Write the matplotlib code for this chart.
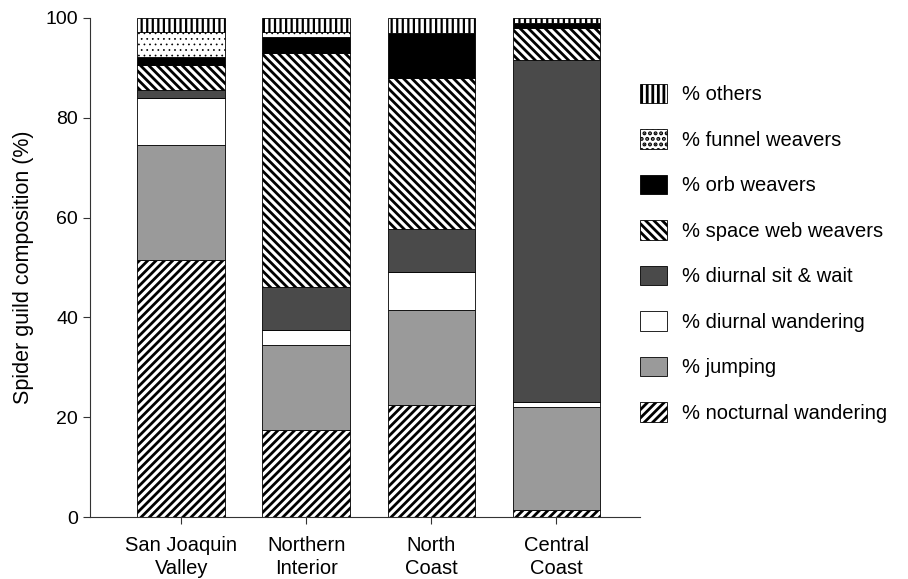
import numpy as np
import matplotlib
matplotlib.use('Agg')
import matplotlib.pyplot as plt

plt.rcParams['font.family'] = ['Liberation Sans', 'DejaVu Sans']
plt.rcParams['hatch.linewidth'] = 2.0

regions = ['San Joaquin\nValley', 'Northern\nInterior', 'North\nCoast', 'Central\nCoast']

# guild percentages per region, bottom to top of each stack
nocturnal_wandering = [51.5, 17.5, 22.5, 1.5]
jumping = [23.0, 17.0, 19.0, 20.5]
diurnal_wandering = [9.5, 3.0, 7.5, 1.0]
diurnal_sit_wait = [1.6, 8.5, 8.8, 68.6]
space_web_weavers = [5.0, 47.0, 30.2, 6.4]
orb_weavers = [1.6, 3.2, 9.0, 1.0]
funnel_weavers = [5.0, 1.0, 0.0, 0.0]
others = [2.8, 2.8, 3.0, 1.0]

# label, values, fill, hatch, hatch line width
guilds = [
    ('% nocturnal wandering', nocturnal_wandering, 'white', '////', 2.0),
    ('% jumping', jumping, '#9a9a9a', None, 2.0),
    ('% diurnal wandering', diurnal_wandering, 'white', None, 2.0),
    ('% diurnal sit & wait', diurnal_sit_wait, '#4a4a4a', None, 2.0),
    ('% space web weavers', space_web_weavers, 'white', '\\\\\\\\', 2.0),
    ('% orb weavers', orb_weavers, 'black', None, 2.0),
    ('% funnel weavers', funnel_weavers, 'white', '...', 0.5),
    ('% others', others, 'white', '|||', 1.6),
]

fig = plt.figure(figsize=(9.08, 5.79), dpi=100)
ax = fig.add_axes([0.099, 0.107, 0.606, 0.862])

x = np.arange(len(regions))
bottom = np.zeros(len(regions))
handles = []
for label, vals, color, hatch, hlw in guilds:
    vals = np.array(vals)
    with plt.rc_context({'hatch.linewidth': hlw}):
        bars = ax.bar(x, vals, width=0.7, bottom=bottom, color=color,
                      hatch=hatch, edgecolor='black', linewidth=0.6, label=label)
    handles.append(bars)
    bottom += vals

ax.set_xlim(-0.73, 3.67)
ax.set_ylim(0, 100)
ax.set_yticks([0, 20, 40, 60, 80, 100])
ax.set_xticks(x)
ax.set_xticklabels(regions, fontsize=14.5, linespacing=1.25)
ax.tick_params(axis='y', labelsize=14, length=5, color='#333333')
ax.tick_params(axis='x', length=5, pad=8.5, color='#333333')
ax.set_ylabel('Spider guild composition (%)', fontsize=15.5, labelpad=8)
ax.spines['top'].set_visible(False)
ax.spines['right'].set_visible(False)
for side in ('left', 'bottom'):
    ax.spines[side].set_color('#333333')

leg = fig.legend(handles[::-1], [g[0] for g in guilds][::-1],
                 loc='upper left', bbox_to_anchor=(0.705, 0.855),
                 frameon=False, fontsize=14.5, labelspacing=1.24,
                 handlelength=1.35, handleheight=1.1, handletextpad=0.75,
                 borderpad=0, borderaxespad=0)

fig.savefig('out.png', dpi=100)
